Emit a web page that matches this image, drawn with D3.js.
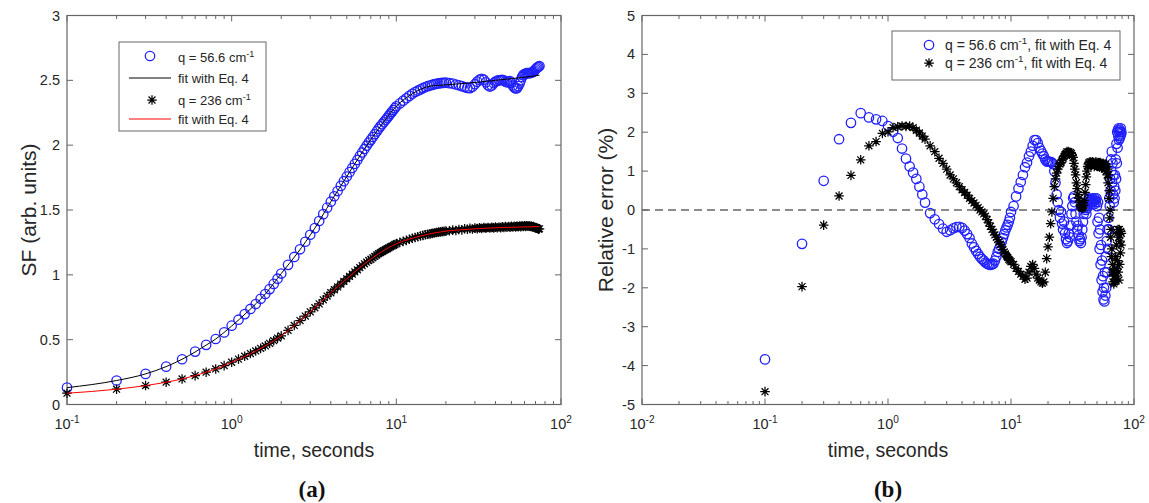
<!DOCTYPE html>
<html><head><meta charset="utf-8">
<script src="https://cdn.jsdelivr.net/npm/d3@7"></script>
<style>
body{margin:0;background:#fff}
svg{display:block}
text{font-family:"Liberation Sans",Arial,Helvetica,sans-serif;fill:#262626}
</style>
</head><body>
<svg id="c" width="1149" height="503"></svg>
<script>
// ---------- DATA ----------
// panel (a): structure factor vs time
const timeL = [
0.1,0.2,0.3,0.4,0.5,0.6,0.7,0.8,0.9,1.0,
1.1,1.2,1.3,1.4,1.5,1.6,1.7,1.8,1.9,2.0,
2.2,2.4,2.6,2.8,3.0,3.2,3.4,3.6,3.8,4.0,
4.2,4.4,4.6,4.8,5.0,5.2,5.4,5.6,5.8,6.0,
6.2,6.4,6.6,6.8,7.0,7.2,7.4,7.6,7.8,8.0,
8.2,8.4,8.6,8.8,9.0,9.2,9.4,9.6,9.8,10,
10.5,11,11.5,12,12.5,13,13.5,14,14.5,15,
15.5,16,16.5,17,17.5,18,18.5,19,19.5,20,
21,22,23,24,25,26,27,28,29,30,
31,32,33,34,35,36,37,38,39,40,
41,42,43,44,45,46,47,48,49,50,
51,52,53,54,55,56,57,58,59,60,
61,62,63,64,65,66,67,68,69,70,
71,72,73,74];
const sfQ566 = [
0.13,0.185,0.236,0.292,0.349,0.408,0.46,0.505,0.556,0.608,
0.654,0.697,0.737,0.775,0.815,0.852,0.89,0.93,0.97,1.01,
1.077,1.138,1.197,1.255,1.309,1.36,1.415,1.468,1.518,1.564,
1.606,1.646,1.686,1.722,1.758,1.792,1.824,1.856,1.886,1.916,
1.944,1.971,1.996,2.02,2.041,2.063,2.084,2.106,2.126,2.145,
2.162,2.178,2.194,2.21,2.226,2.242,2.257,2.271,2.286,2.30,
2.322,2.343,2.362,2.38,2.396,2.41,2.42,2.43,2.44,2.448,
2.455,2.46,2.465,2.47,2.473,2.476,2.478,2.48,2.481,2.482,
2.478,2.475,2.468,2.462,2.455,2.448,2.442,2.44,2.45,2.47,
2.49,2.505,2.512,2.505,2.485,2.462,2.452,2.46,2.478,2.49,
2.497,2.5,2.502,2.503,2.5,2.49,2.485,2.49,2.495,2.48,
2.46,2.445,2.438,2.44,2.455,2.475,2.5,2.525,2.54,2.548,
2.552,2.555,2.556,2.555,2.556,2.56,2.562,2.567,2.575,2.585,
2.593,2.6,2.605,2.61];
const sfQ236 = [
0.087,0.118,0.146,0.172,0.197,0.223,0.249,0.274,0.30,0.326,
0.35,0.372,0.393,0.413,0.433,0.452,0.472,0.492,0.512,0.53,
0.572,0.61,0.647,0.682,0.715,0.746,0.776,0.807,0.836,0.862,
0.885,0.907,0.929,0.949,0.969,0.988,1.005,1.023,1.039,1.056,
1.071,1.085,1.098,1.11,1.12,1.131,1.142,1.153,1.163,1.172,
1.18,1.187,1.194,1.201,1.208,1.215,1.221,1.227,1.234,1.24,
1.25,1.258,1.266,1.274,1.282,1.288,1.294,1.299,1.304,1.309,
1.313,1.316,1.32,1.323,1.326,1.329,1.331,1.333,1.335,1.337,
1.34,1.345,1.342,1.35,1.347,1.355,1.352,1.358,1.354,1.36,
1.356,1.362,1.358,1.364,1.36,1.365,1.361,1.366,1.362,1.368,
1.363,1.369,1.364,1.37,1.366,1.372,1.367,1.373,1.368,1.374,
1.369,1.375,1.37,1.376,1.371,1.377,1.372,1.378,1.373,1.378,
1.374,1.379,1.375,1.378,1.373,1.376,1.37,1.372,1.366,1.365,
1.36,1.358,1.352,1.355];
const fitTime = [0.1,0.2,0.3,0.4,0.5,0.6,0.7,0.8,0.9,1,1.25,1.6,2,2.5,3.2,4,5,6.3,8,10,12.5,16,20,25,32,40,50,63,74];
const fitQ566 = [0.13,0.185,0.236,0.292,0.349,0.405,0.458,0.505,0.556,0.605,0.716,0.852,1.01,1.165,1.36,1.564,1.758,1.958,2.145,2.30,2.396,2.455,2.465,2.475,2.487,2.5,2.513,2.527,2.54];
const fitQ236 = [0.087,0.118,0.146,0.172,0.197,0.223,0.249,0.274,0.30,0.326,0.38,0.452,0.53,0.628,0.746,0.862,0.969,1.078,1.172,1.24,1.282,1.316,1.337,1.348,1.357,1.363,1.367,1.37,1.372];

// panel (b): relative error (%) vs time
const timeR = [
0.1,0.2,0.3,0.4,0.5,0.6,0.7,0.8,0.9,1.0,
1.1,1.2,1.3,1.4,1.5,1.6,1.7,1.8,1.9,2.0,
2.2,2.4,2.6,2.8,3.0,3.2,3.4,3.6,3.8,4.0,
4.2,4.4,4.6,4.8,5.0,5.2,5.4,5.6,5.8,6.0,
6.2,6.4,6.6,6.8,7.0,7.2,7.4,7.6,7.8,8.0,
8.2,8.4,8.6,8.8,9.0,9.2,9.4,9.6,9.8,10,
10.5,11,11.5,12,12.5,13,13.5,14,14.5,15,
15.5,16,16.5,17,17.5,18,18.5,19,19.5,20,
20.5,21,21.5,22,22.5,23,23.5,24,24.5,25,
25.5,26,26.5,27,27.5,28,28.5,29,29.5,30,
30.5,31,31.5,32,32.5,33,33.5,34,34.5,35,
35.5,36,36.5,37,37.5,38,38.5,39,39.5,40,
40.5,41,41.5,42,42.5,43,43.5,44,44.5,45,
45.5,46,46.5,47,47.5,48,48.5,49,49.5,50,
50.5,51,51.5,52,52.5,53,53.5,54,54.5,55,
55.5,56,56.5,57,57.5,58,58.5,59,59.5,60,
60.5,61,61.5,62,62.5,63,63.5,64,64.5,65,
65.5,66,66.5,67,67.5,68,68.5,69,69.5,70,
70.5,71,71.5,72,72.5,73,73.5,74,74.5,75,
75.5,76,76.5,77,77.5,78,78.5,79];
const errQ566 = [
-3.84,-0.87,0.75,1.82,2.24,2.49,2.38,2.33,2.29,2.16,
2.01,1.85,1.58,1.32,1.12,0.96,0.80,0.60,0.40,0.19,
-0.08,-0.24,-0.36,-0.48,-0.56,-0.52,-0.47,-0.44,-0.43,-0.46,
-0.53,-0.62,-0.72,-0.86,-0.96,-1.05,-1.13,-1.2,-1.26,-1.3,
-1.35,-1.38,-1.4,-1.41,-1.4,-1.38,-1.3,-1.2,-1.08,-1.0,
-0.92,-0.82,-0.72,-0.62,-0.52,-0.45,-0.38,-0.3,-0.2,-0.05,
0.1,0.35,0.55,0.72,0.9,1.1,1.22,1.38,1.5,1.65,
1.8,1.8,1.72,1.6,1.52,1.45,1.38,1.3,1.25,1.24,
1.24,1.24,1.22,1.18,1.0,0.7,0.4,0.2,0.0,-0.2,
-0.05,-0.35,-0.5,-0.3,-0.6,-0.75,-0.85,-0.8,-0.6,-0.7,
-0.4,-0.1,0.1,0.3,0.35,0.2,-0.1,-0.3,-0.5,-0.4,
-0.65,-0.8,-0.75,-0.85,-0.7,-0.5,-0.3,-0.1,0.05,0.1,
0.0,-0.1,0.05,0.2,0.25,0.3,0.28,0.2,0.25,0.15,
0.25,0.3,0.2,0.25,0.15,0.3,0.25,0.2,0.3,0.1,
-0.3,0.2,-0.6,-0.2,-1.0,-0.5,-1.4,-0.9,-1.8,-1.3,
-2.1,-1.7,-2.3,-2.0,-2.35,-1.6,-2.2,-1.2,-2.0,-0.8,
-1.6,-0.5,-1.0,-0.2,-0.5,0.3,0.1,0.8,0.5,1.3,
1.0,1.5,0.7,1.2,0.4,0.9,0.2,0.6,0.3,0.9,
0.5,1.3,0.8,1.7,1.2,2.0,1.6,2.05,1.9,2.1,
1.8,2.0,1.85,2.05,1.9,2.1,1.95,2.0];
const errQ236 = [
-4.67,-1.97,-0.39,0.36,0.89,1.29,1.65,1.76,1.97,2.01,
2.12,2.14,2.16,2.15,2.16,2.12,2.05,1.98,1.9,1.82,
1.65,1.5,1.33,1.2,1.05,0.9,0.8,0.7,0.6,0.52,
0.45,0.38,0.3,0.24,0.18,0.12,0.06,0.0,-0.05,-0.1,
-0.16,-0.25,-0.33,-0.42,-0.5,-0.57,-0.64,-0.7,-0.76,-0.82,
-0.88,-0.95,-1.02,-1.08,-1.13,-1.18,-1.22,-1.27,-1.3,-1.33,
-1.4,-1.5,-1.58,-1.65,-1.7,-1.78,-1.75,-1.6,-1.45,-1.4,
-1.5,-1.65,-1.75,-1.8,-1.85,-1.88,-1.85,-1.6,-1.25,-0.95,
-0.7,-0.35,-0.05,0.3,0.6,0.8,0.95,1.05,1.12,1.18,
1.22,1.28,1.32,1.38,1.42,1.46,1.5,1.48,1.5,1.46,
1.48,1.45,1.4,1.35,1.2,1.05,0.9,0.7,0.55,0.4,
0.3,0.2,0.12,0.08,0.05,0.1,0.05,0.12,0.25,0.45,
0.65,0.85,1.0,1.12,1.18,1.22,1.18,1.24,1.16,1.22,
1.15,1.24,1.18,1.22,1.12,1.2,1.15,1.24,1.16,1.2,
1.12,1.22,1.15,1.2,1.1,1.22,1.14,1.2,1.1,1.18,
1.08,1.2,1.12,1.18,1.05,1.15,1.1,1.18,1.0,1.12,
0.9,1.05,0.7,0.9,0.3,0.5,-0.2,0.0,-0.7,-0.5,
-1.2,-1.0,-1.6,-1.4,-1.85,-1.6,-1.9,-1.7,-1.85,-1.5,
-1.8,-1.2,-1.7,-0.9,-1.5,-0.6,-1.3,-0.5,-1.6,-0.7,
-1.8,-0.5,-1.4,-0.8,-1.1,-0.55,-0.9,-0.6];

const yTicksL = [0,0.5,1,1.5,2,2.5,3];
const yTicksR = [-5,-4,-3,-2,-1,0,1,2,3,4,5];
const xDecadesL = [0.1,1,10,100];
const xDecadesR = [0.01,0.1,1,10,100];

// ---------- DRAWING ----------
const svg = d3.select("#c");
const AX = "#666";
const BLUE = "#2020ff";
const TOP = 15.5, BOT = 404.5;
const CR = 4.7, CW = 1.3, SR = 4.8, SW = 1.25;

function starPath(cx, cy, r){
  const d = r*0.72;
  return `M${cx-r},${cy}H${cx+r}M${cx},${cy-r}V${cy+r}M${cx-d},${cy-d}L${cx+d},${cy+d}M${cx-d},${cy+d}L${cx+d},${cy-d}`;
}
function supLabel(g, x, y, base, sup, size, anchor){
  const t = g.append("text").attr("x", x).attr("y", y).attr("text-anchor", anchor||"middle")
    .style("font-size", size+"px");
  t.append("tspan").text(base);
  t.append("tspan").attr("dy", -size*0.42).style("font-size", (size*0.7)+"px").text(sup);
  return t;
}

function panel(o){
  const g = svg.append("g");
  const x = d3.scaleLog().domain(o.xdom).range(o.xr);
  const y = d3.scaleLinear().domain(o.ydom).range([BOT, TOP]);
  g.append("rect").attr("x", o.xr[0]).attr("y", TOP).attr("width", o.xr[1]-o.xr[0]).attr("height", BOT-TOP)
    .attr("fill", "none").attr("stroke", AX).attr("stroke-width", 1.2);
  const minors = x.ticks().filter(v => !o.decades.some(d => Math.abs(d - v) < 1e-9));
  const tk = g.append("g").attr("stroke", AX).attr("stroke-width", 1);
  minors.forEach(v => {
    const px = x(v);
    tk.append("line").attr("x1", px).attr("x2", px).attr("y1", BOT).attr("y2", BOT-3.5);
    tk.append("line").attr("x1", px).attr("x2", px).attr("y1", TOP).attr("y2", TOP+3.5);
  });
  o.decades.forEach(v => {
    const px = x(v);
    tk.append("line").attr("x1", px).attr("x2", px).attr("y1", BOT).attr("y2", BOT-6);
    tk.append("line").attr("x1", px).attr("x2", px).attr("y1", TOP).attr("y2", TOP+6);
    supLabel(g, px, 429, "10", String(Math.round(Math.log10(v))), 14.5);
  });
  o.yticks.forEach(v => {
    const py = y(v);
    tk.append("line").attr("x1", o.xr[0]).attr("x2", o.xr[0]+6).attr("y1", py).attr("y2", py);
    tk.append("line").attr("x1", o.xr[1]).attr("x2", o.xr[1]-6).attr("y1", py).attr("y2", py);
    g.append("text").attr("x", o.xr[0]-7).attr("y", py+5).attr("text-anchor", "end")
      .style("font-size", "14.5px").text(String(v));
  });
  const cx = (o.xr[0]+o.xr[1])/2;
  g.append("text").attr("x", cx).attr("y", 457).attr("text-anchor", "middle")
    .style("font-size", "19.5px").text("time, seconds");
  g.append("text").attr("transform", `translate(${o.ytx},${(TOP+BOT)/2}) rotate(-90)`)
    .attr("text-anchor", "middle").style("font-size", "21px").text(o.ytitle);
  g.append("text").attr("x", o.labx).attr("y", 497).attr("text-anchor", "middle")
    .style("font-family", "'Liberation Serif','Times New Roman',serif").style("font-weight", "bold")
    .style("font-size", "23px").style("fill", "#111").text(o.panelLabel);
  return {g, x, y};
}

// ---- panel (a)
const A = panel({xdom:[0.1,100], xr:[67,561], ydom:[0,3], yticks:yTicksL, decades:xDecadesL,
  ytitle:"SF (arb. units)", ytx:36, labx:312, panelLabel:"(a)"});
const ptsA1 = d3.zip(timeL, sfQ566);
const ptsA2 = d3.zip(timeL, sfQ236);
A.g.append("g").selectAll("circle").data(ptsA1).join("circle")
  .attr("cx", d => A.x(d[0])).attr("cy", d => A.y(d[1])).attr("r", CR)
  .attr("fill", "none").attr("stroke", BLUE).attr("stroke-width", CW);
const lineA = d3.line().x(d => A.x(d[0])).y(d => A.y(d[1])).curve(d3.curveMonotoneX);
A.g.append("path").datum(d3.zip(fitTime, fitQ566)).attr("d", lineA)
  .attr("fill", "none").attr("stroke", "#000").attr("stroke-width", 1);
A.g.append("path").attr("d", ptsA2.map(d => starPath(A.x(d[0]), A.y(d[1]), SR)).join(""))
  .attr("fill", "none").attr("stroke", "#000").attr("stroke-width", SW);
A.g.append("path").datum(d3.zip(fitTime, fitQ236)).attr("d", lineA)
  .attr("fill", "none").attr("stroke", "#ff0000").attr("stroke-width", 1);

// legend (a)
const LA = A.g.append("g");
LA.append("rect").attr("x", 119).attr("y", 42).attr("width", 147).attr("height", 89)
  .attr("fill", "#fff").attr("stroke", AX).attr("stroke-width", 1);
LA.append("circle").attr("cx", 150).attr("cy", 56).attr("r", CR).attr("fill", "none").attr("stroke", BLUE).attr("stroke-width", CW);
LA.append("line").attr("x1", 129).attr("x2", 171).attr("y1", 78).attr("y2", 78).attr("stroke", "#000");
LA.append("path").attr("d", starPath(152, 100, SR)).attr("stroke", "#000").attr("stroke-width", SW).attr("fill", "none");
LA.append("line").attr("x1", 129).attr("x2", 171).attr("y1", 119).attr("y2", 119).attr("stroke", "#ff0000");
supLabel(LA, 178, 62, "q = 56.6 cm", "-1", 13, "start");
LA.append("text").attr("x", 178).attr("y", 83).style("font-size", "13px").text("fit with Eq. 4");
supLabel(LA, 178, 105, "q = 236 cm", "-1", 13, "start");
LA.append("text").attr("x", 178).attr("y", 124).style("font-size", "13px").text("fit with Eq. 4");

// ---- panel (b)
const B = panel({xdom:[0.01,100], xr:[642,1134], ydom:[-5,5], yticks:yTicksR, decades:xDecadesR,
  ytitle:"Relative error (%)", ytx:613, labx:888, panelLabel:"(b)"});
B.g.append("line").attr("x1", 642).attr("x2", 1134).attr("y1", B.y(0)).attr("y2", B.y(0))
  .attr("stroke", "#666").attr("stroke-width", 1.5).attr("stroke-dasharray", "8,5");
const ptsB1 = d3.zip(timeR, errQ566);
const ptsB2 = d3.zip(timeR, errQ236);
B.g.append("g").selectAll("circle").data(ptsB1).join("circle")
  .attr("cx", d => B.x(d[0])).attr("cy", d => B.y(d[1])).attr("r", CR)
  .attr("fill", "none").attr("stroke", BLUE).attr("stroke-width", CW);
B.g.append("path").attr("d", ptsB2.map(d => starPath(B.x(d[0]), B.y(d[1]), SR)).join(""))
  .attr("fill", "none").attr("stroke", "#000").attr("stroke-width", SW);

// legend (b)
const LB = B.g.append("g");
LB.append("rect").attr("x", 892).attr("y", 31).attr("width", 228).attr("height", 49)
  .attr("fill", "#fff").attr("stroke", AX).attr("stroke-width", 1);
LB.append("circle").attr("cx", 929).attr("cy", 45).attr("r", CR).attr("fill", "none").attr("stroke", BLUE).attr("stroke-width", CW);
LB.append("path").attr("d", starPath(929, 63, SR)).attr("stroke", "#000").attr("stroke-width", SW).attr("fill", "none");
const t1 = supLabel(LB, 945, 50, "q = 56.6 cm", "-1", 14, "start");
t1.append("tspan").attr("dy", 14*0.42).text(", fit with Eq. 4");
const t2 = supLabel(LB, 945, 68, "q = 236 cm", "-1", 14, "start");
t2.append("tspan").attr("dy", 14*0.42).text(", fit with Eq. 4");
</script>
</body></html>
